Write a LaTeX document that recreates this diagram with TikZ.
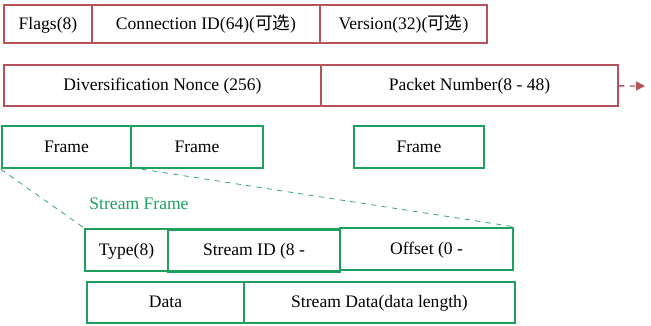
\documentclass[tikz,border=0pt]{standalone}
\usepackage{fontspec}
\setmainfont{Liberation Serif}
\newfontfamily\cjk{Noto Sans CJK SC}
\usepackage{xcolor}
\usetikzlibrary{arrows.meta}

\definecolor{hdrred}{RGB}{184,82,90}
\definecolor{frmgreen}{RGB}{30,160,95}

\begin{document}
\begin{tikzpicture}[
    x=0.02cm, y=-0.02cm,
    font=\fontsize{10}{12}\selectfont,
    hdr/.style={rectangle, draw=hdrred, line width=1.4pt, inner sep=0pt, align=center, text height=0.72em, text depth=0.1em, minimum height=#1},
    hdr/.default=0.76cm,
    frm/.style={rectangle, draw=frmgreen, line width=1.4pt, inner sep=0pt, align=center, text height=0.72em, text depth=0.1em, minimum height=#1},
    frm/.default=0.84cm,
    guide/.style={draw=frmgreen, dashed, thin},
    more/.style={draw=hdrred, dashed, thick, -{Triangle[length=5pt, width=5pt]}}
]
    \useasboundingbox (0,0) rectangle (651,325);

    % Public header
    \node[hdr, minimum width=1.76cm] (flags) at (48,24) {Flags(8)};
    \node[hdr, minimum width=4.56cm] (connid) at (206,24) {Connection ID(64)({\cjk 可选})};
    \node[hdr, minimum width=3.34cm] (version) at (403.5,24) {Version(32)({\cjk 可选})};

    \node[hdr=0.82cm, minimum width=6.34cm] (nonce) at (162.5,85.5) {Diversification Nonce (256)};
    \node[hdr=0.82cm, minimum width=5.94cm] (pktnum) at (469.5,85.5) {Packet Number(8 - 48)};
    \coordinate (cont) at (645,86);

    % Frames
    \node[frm, minimum width=2.58cm] (frame1) at (66.5,147) {Frame};
    \node[frm, minimum width=2.64cm] (frame2) at (197,147) {Frame};
    \node[frm, minimum width=2.60cm] (frame3) at (419,147) {Frame};

    \node[text=frmgreen] (sflabel) at (139,204) {Stream Frame};

    % Stream frame fields
    \node[frm, minimum width=1.66cm] (type) at (126.5,250) {Type(8)};
    \node[frm, minimum width=3.44cm] (streamid) at (254,250.5) {Stream ID (8 -};
    \node[frm, minimum width=3.46cm] (offset) at (426.5,249) {Offset (0 -};

    \node[frm=0.82cm, minimum width=3.14cm] (data) at (165.5,302.5) {Data};
    \node[frm=0.82cm, minimum width=5.42cm] (sdata) at (379.5,302.5) {Stream Data(data length)};

    % Lines
    \draw[more] (pktnum) -- (cont);
    \draw[guide] (frame1.south west) -- (type.north west);
    \draw[guide] ([xshift=0.24cm]frame2.south west) -- (offset.north east);

\end{tikzpicture}
\end{document}
